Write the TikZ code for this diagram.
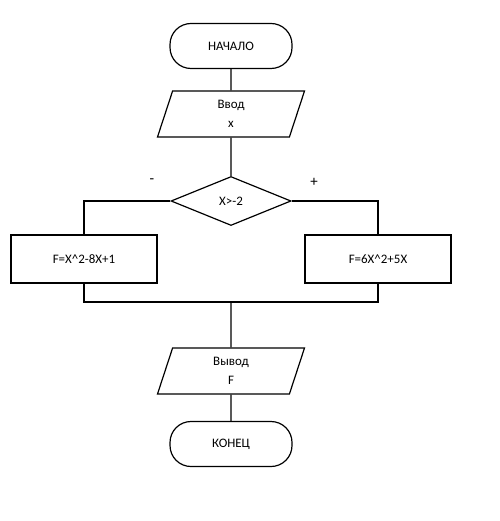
\documentclass[tikz,border=0pt]{standalone}
\usepackage{fontspec}
\setmainfont{Carlito}
\usetikzlibrary{shapes.geometric,positioning}

\begin{document}
\begin{tikzpicture}[x=1bp,y=-1bp,
font=\fontsize{13}{19}\selectfont,
term/.style={draw,line width=1.2pt,rounded corners=21bp,minimum width=122bp,minimum height=45bp,inner sep=0pt},
io/.style={draw,line width=1.2pt,trapezium,trapezium left angle=61,trapezium right angle=119,trapezium stretches body,minimum width=147bp,minimum height=46bp,inner sep=0pt,align=center},
cond/.style={draw,line width=1.2pt,diamond,minimum width=120bp,minimum height=49bp,inner sep=0pt},
calc/.style={draw,line width=1.2pt,minimum width=146bp,minimum height=48bp,inner sep=0pt},
sign/.style={font=\fontsize{15}{18}\selectfont},
line/.style={line width=1.2pt}]
\useasboundingbox (0,0) rectangle (500,521);
\node[term] (start) at (231,46) {НАЧАЛО};
\node[io] (inp) at (231,114) {Ввод\\x};
\node[cond] (dec) at (231,201) {X>-2};
\node[calc] (fl) at (84,259) {F=X\^{}2-8X+1};
\node[calc] (fr) at (378,259) {F=6X\^{}2+5X};
\coordinate (join) at (231,302);
\node[io] (out) at (231,371) {Вывод\\F};
\node[term] (stop) at (231,444) {КОНЕЦ};
\node[sign] (minus) at (152,181) {-};
\node[sign] (plus) at (314,182) {+};
\draw[line] (start)--(inp);\draw[line] (inp)--(dec);
\draw[line] (dec.west) -| (fl.north);
\draw[line] (dec.east) -| (fr.north);
\draw[line] (fl.south) |- (join) -| (fr.south);
\draw[line] (join)--(out);\draw[line] (out)--(stop);
\end{tikzpicture}
\end{document}
